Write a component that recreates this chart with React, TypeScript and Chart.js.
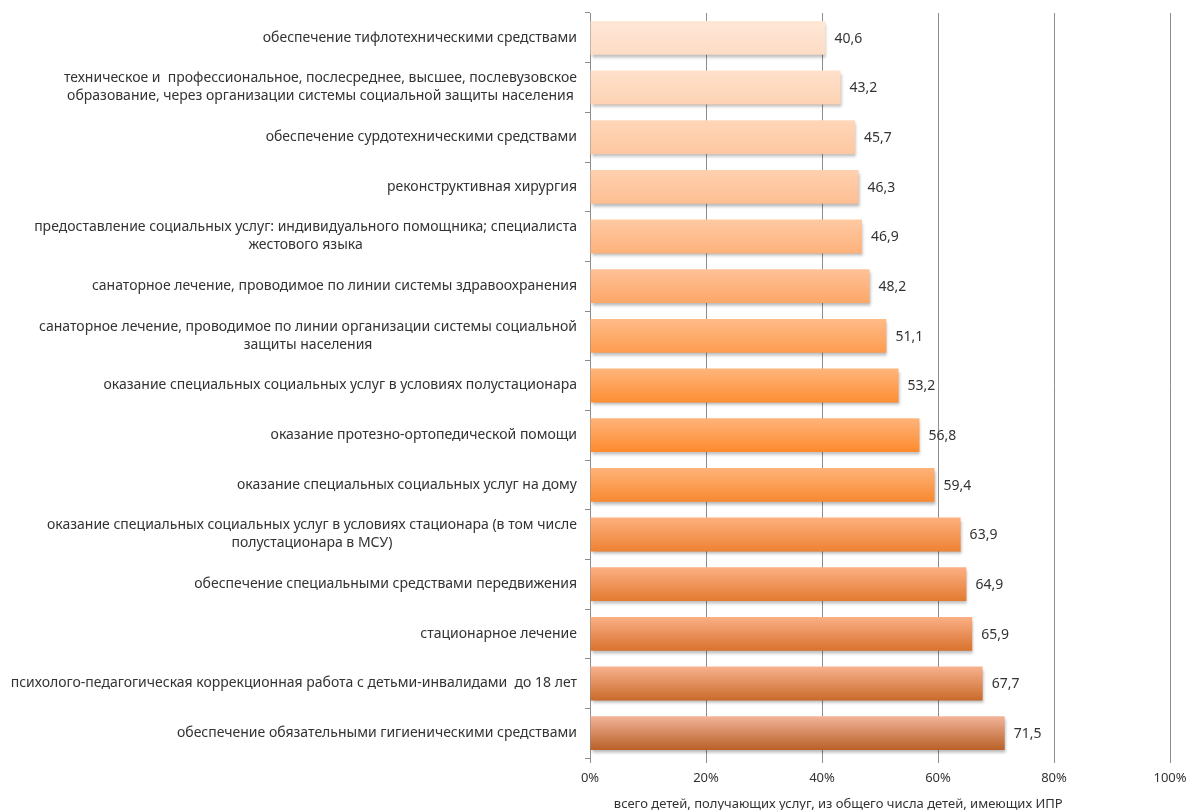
import React, { useEffect, useRef } from "react";
import { Chart, registerables } from "chart.js";

Chart.register(...registerables);

const categories: string[][] = [
  ["обеспечение тифлотехническими средствами"],
  ["техническое и  профессиональное, послесреднее, высшее, послевузовское", "образование, через организации системы социальной защиты населения"],
  ["обеспечение сурдотехническими средствами"],
  ["реконструктивная хирургия"],
  ["предоставление социальных услуг: индивидуального помощника; специалиста", "жестового языка"],
  ["санаторное лечение, проводимое по линии системы здравоохранения"],
  ["санаторное лечение, проводимое по линии организации системы социальной", "защиты населения"],
  ["оказание специальных социальных услуг в условиях полустационара"],
  ["оказание протезно-ортопедической помощи"],
  ["оказание специальных социальных услуг на дому"],
  ["оказание специальных социальных услуг в условиях стационара (в том числе", "полустационара в МСУ)"],
  ["обеспечение специальными средствами передвижения"],
  ["стационарное лечение"],
  ["психолого-педагогическая коррекционная работа с детьми-инвалидами  до 18 лет"],
  ["обеспечение обязательными гигиеническими средствами"],
];

const values: number[] = [40.6, 43.2, 45.7, 46.3, 46.9, 48.2, 51.1, 53.2, 56.8, 59.4, 63.9, 64.9, 65.9, 67.7, 71.5];

const xTicks: number[] = [0, 20, 40, 60, 80, 100];

const axisTitle = "всего детей, получающих услуг, из общего числа детей, имеющих ИПР";

const topColors: string[] = [
  "#FFE7D7", "#FFE0CB", "#FFD6B9", "#FFD0AF", "#FFC9A2", "#FFC197", "#FFBB88", "#FFB57B",
  "#FFB47A", "#FFB37A", "#FDB07E", "#FCB084", "#FBAF86", "#F8B28E", "#F3B49A",
];
const bottomColors: string[] = [
  "#FDDCC4", "#FDD3B3", "#FDC7A0", "#FDBF92", "#FDB27C", "#FDA768", "#FD9C50", "#FD8E34",
  "#FD8A2E", "#F88930", "#EE8233", "#E27A30", "#D8722E", "#C96A2A", "#B86026",
];

const FONT = "'Noto Sans', sans-serif";
const TEXT_COLOR = "#333333";
const GRID_COLOR = "#8c8c8c";
const BAR_PCT = 0.68;

const fmt = (v: number) => v.toFixed(1).replace(".", ",");

const shadowPlugin = {
  id: "barShadow",
  beforeDatasetsDraw(chart: any) {
    const ctx = chart.ctx;
    ctx.save();
    ctx.shadowColor = "rgba(0,0,0,0.28)";
    ctx.shadowOffsetX = 1;
    ctx.shadowOffsetY = 3;
    ctx.shadowBlur = 3;
  },
  afterDatasetsDraw(chart: any) {
    chart.ctx.restore();
  },
};

const labelsPlugin = {
  id: "labelsPlugin",
  afterDraw(chart: any) {
    const ctx = chart.ctx;
    const yScale = chart.scales.y;
    const xScale = chart.scales.x;
    ctx.save();
    ctx.font = `14px ${FONT}`;
    ctx.fillStyle = TEXT_COLOR;
    ctx.textBaseline = "middle";
    const lineH = 18;
    const rightEdge = yScale.right - 13;
    categories.forEach((lines, i) => {
      const y = yScale.getPixelForValue(i);
      const maxW = Math.max(...lines.map((l) => ctx.measureText(l).width));
      const cx = rightEdge - maxW / 2;
      ctx.textAlign = "center";
      const y0 = y - ((lines.length - 1) * lineH) / 2;
      lines.forEach((l, k) => ctx.fillText(l, cx, y0 + k * lineH));
    });
    const meta = chart.getDatasetMeta(0);
    ctx.textAlign = "left";
    meta.data.forEach((bar: any, i: number) => {
      ctx.fillText(fmt(values[i]), bar.x + 9, bar.y + 1);
    });
    // axis title
    ctx.font = `13px ${FONT}`;
    ctx.textAlign = "center";
    ctx.fillText(axisTitle, xScale.getPixelForValue(42.8), xScale.bottom - 16);
    ctx.restore();
  },
};

export default function App() {
  const ref = useRef<HTMLCanvasElement | null>(null);
  useEffect(() => {
    if (!ref.current) return;
    const chart = new Chart(ref.current, {
      type: "bar",
      data: {
        labels: categories.map((c) => c.join(" ")),
        datasets: [
          {
            data: values,
            categoryPercentage: 1,
            barPercentage: BAR_PCT,
            borderWidth: 0,
            backgroundColor: (c: any) => {
              const i = c.dataIndex;
              if (i === undefined) return bottomColors[0];
              const chart = c.chart;
              const area = chart.chartArea;
              const ys = chart.scales.y;
              if (!area || !ys) return bottomColors[i];
              const y = ys.getPixelForValue(i);
              const h = (area.height / categories.length) * BAR_PCT / 2;
              const g = chart.ctx.createLinearGradient(0, y - h, 0, y + h);
              g.addColorStop(0, topColors[i]);
              g.addColorStop(1, bottomColors[i]);
              return g;
            },
          },
        ],
      },
      options: {
        responsive: false,
        animation: false,
        indexAxis: "y",
        layout: { padding: { top: 13, right: 18, left: 0, bottom: 0 } },
        plugins: { legend: { display: false }, tooltip: { enabled: false } },
        scales: {
          x: {
            min: 0,
            max: 100,
            afterBuildTicks: (s: any) => {
              s.ticks = xTicks.map((v) => ({ value: v }));
            },
            ticks: {
              callback: (v: any) => `${v}%`,
              font: { family: FONT, size: 13 },
              color: TEXT_COLOR,
              padding: 7,
              maxRotation: 0,
            },
            grid: { color: GRID_COLOR, tickLength: 5, lineWidth: 1 },
            border: { display: false },
            title: { display: false },
            afterFit: (s: any) => {
              s.height = 62;
              s.paddingRight = 0;
              s.paddingLeft = 0;
            },
          },
          y: {
            type: "category",
            ticks: { display: false },
            grid: { drawOnChartArea: false, drawTicks: true, tickLength: 5, color: GRID_COLOR, offset: true },
            border: { display: true, color: GRID_COLOR },
            afterFit: (s: any) => {
              s.width = 590;
            },
          },
        },
      },
      plugins: [shadowPlugin, labelsPlugin],
    } as any);
    return () => chart.destroy();
  }, []);
  return (
    <div style={{ position: "fixed", left: 0, top: 0, width: 1188, height: 810, overflow: "hidden", background: "#fff" }}>
      <canvas ref={ref} width={1188} height={820} style={{ width: 1188, height: 820, display: "block" }} />
    </div>
  );
}
